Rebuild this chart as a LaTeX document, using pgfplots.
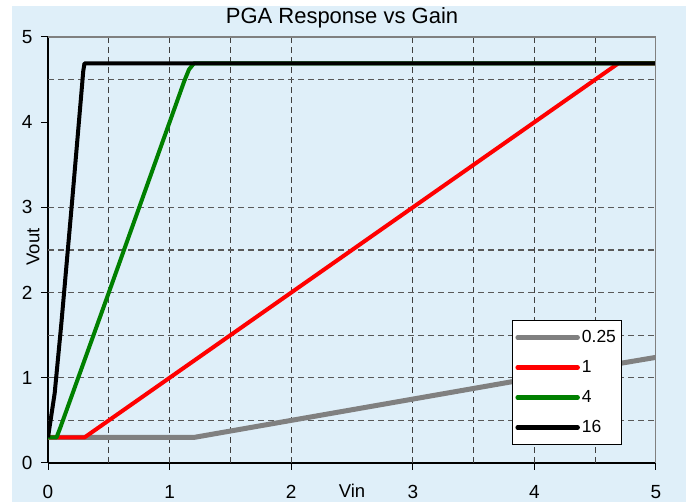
\documentclass[border=0pt]{standalone}
\usepackage{pgfplots}
\pgfplotsset{compat=1.18}
\usepackage{fontspec}
\setmainfont{Liberation Sans}
\definecolor{bgblue}{RGB}{223,239,249}
\definecolor{lgray}{RGB}{128,128,128}
\definecolor{dgreen}{RGB}{0,128,0}
\begin{document}
\begin{tikzpicture}
\useasboundingbox (-48pt,-39pt) rectangle (638pt,463pt);
\fill[white] (-48pt,-39pt) rectangle (638pt,463pt);
\fill[bgblue] (-36pt,-39pt) rectangle (638pt,457pt);
\begin{axis}[
  scale only axis, width=608pt, height=426pt,
  xmin=0, xmax=5, ymin=0, ymax=5,
  axis lines*=left,
  axis line style={black, line width=1.6pt},
  xtick={0,1,2,3,4,5}, ytick={0,1,2,3,4,5},
  tick align=outside, major tick length=7pt,
  tick style={black, line width=1pt},
  ticklabel style={font=\fontsize{19}{21}\selectfont},
  /pgf/number format/assume math mode=true,
  xticklabel style={yshift=-12pt},
  yticklabel style={xshift=-5pt},
  extra x ticks={0.5,1,1.5,2,3,3.5,4,4.5}, extra x tick labels={},
  extra y ticks={0.5,1,1.5,2,2.5,3,4.5}, extra y tick labels={},
  extra x tick style={major tick length=0pt, grid=major, major grid style={black!75, line width=1.1pt, dash pattern=on 6pt off 4pt}},
  extra y tick style={major tick length=0pt, grid=major, major grid style={black!65, line width=1.1pt, dash pattern=on 6pt off 4pt}},
  legend style={at={(rel axis cs:0.7632,0.0423)}, anchor=south west, draw=black, line width=0.8pt, fill=white,
    font=\fontsize{17.5}{19}\selectfont, inner xsep=3pt, inner ysep=2pt,
    nodes={inner ysep=7.5pt, inner xsep=2pt, text height=12pt, text depth=3pt, anchor=west}},
  legend cell align=left,
  legend image code/.code={\draw[#1, line width=4.5pt, line cap=round] (0pt,0pt) -- (60pt,0pt);},
]
\addplot[lgray, line width=5pt, line join=round] coordinates {
(0,0.3) (1.2,0.3) (1.5,0.375) (2,0.5) (2.5,0.625) (3,0.75) (3.5,0.875) (4,1.0) (4.5,1.12) (5,1.24)};
\addlegendentry{0.25}
\addplot[red, line width=4pt, line join=round] coordinates {
(0,0.3) (0.3,0.3) (0.5,0.5) (1,1) (1.5,1.5) (2,2) (2.5,2.5) (3,3) (3.5,3.5) (4,4) (4.5,4.5) (4.69,4.69) (5,4.69)};
\addlegendentry{1}
\addplot[dgreen, line width=4pt, line join=round] coordinates {
(0,0.3) (0.07,0.3) (0.1,0.41) (0.5,2) (0.75,3) (1,4) (1.12,4.48) (1.16,4.62) (1.2,4.69) (5,4.69)};
\addlegendentry{4}
\addplot[black, line width=4pt, line join=round] coordinates {
(0,0.3) (0.055,0.82) (0.11,1.64) (0.2,3.1) (0.29,4.6) (0.3,4.69) (5,4.69)};
\addlegendentry{16}
\draw[lgray, line width=2pt] (rel axis cs:0,1) -- (rel axis cs:1,1) -- (rel axis cs:1,0);
\end{axis}
\node[font=\fontsize{22}{24}\selectfont] at (294pt,445pt) {PGA Response vs Gain};
\node[font=\fontsize{18.5}{20}\selectfont] at (304pt,-28pt) {Vin};
\node[font=\fontsize{18.5}{20}\selectfont, rotate=90] at (-15pt,216pt) {Vout};
\end{tikzpicture}
\end{document}
